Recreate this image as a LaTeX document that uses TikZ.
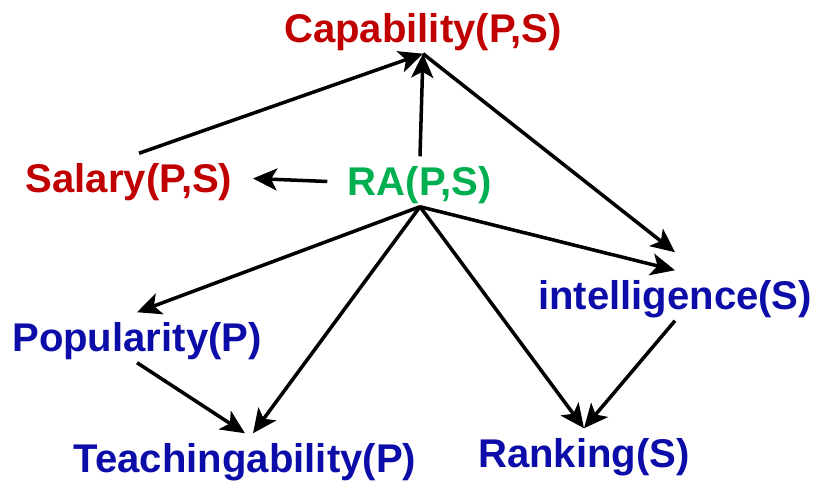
\documentclass[tikz,border=0pt]{standalone}
\usepackage{fontspec}
\setmainfont{Liberation Sans}
\usepackage{tikz}
\usetikzlibrary{arrows.meta}
\definecolor{bnred}{HTML}{C00000}
\definecolor{bngreen}{HTML}{00B050}
\definecolor{bnblue}{HTML}{0C0CA8}

\begin{document}
\begin{tikzpicture}[x=0.01cm,y=0.01cm,
  >={Stealth[length=0.24cm,width=0.22cm,inset=0.06cm]},
  vr/.style={anchor=base,font=\fontsize{11.4pt}{13pt}\selectfont\bfseries,
    text height=0.38cm,text depth=0.09cm,inner ysep=0.01cm,inner xsep=0.2cm},
  ed/.style={->,black,line width=1pt}]
\useasboundingbox (0,0) rectangle (815,485);
\node[vr,text=bnred] (cap) at (423,442) {Capability(P,S)};
\node[vr,text=bnred] (sal) at (129,292) {Salary(P,S)};
\node[vr,text=bngreen] (ra) at (420,289) {RA(P,S)};
\node[vr,text=bnblue] (int) at (675,175) {intelligence(S)};
\node[vr,text=bnblue] (pop) at (137,133) {Popularity(P)};
\node[vr,text=bnblue] (tch) at (245,12) {Teachingability(P)};
\node[vr,text=bnblue] (rnk) at (584,17) {Ranking(S)};

\draw[ed] ([xshift=0.1cm]sal.north) -- (cap.south);
\draw[ed] (ra.north) -- (cap.south);
\draw[ed] (ra.west) -- (sal.east);
\draw[ed] (cap.south) -- ([yshift=0.18cm]int.north);
\draw[ed] (ra.south) -- (int.north);
\draw[ed] (ra.south) -- (pop.north);
\draw[ed] (ra.south) -- ([xshift=0.08cm]tch.north);
\draw[ed] (ra.south) -- (rnk.north);
\draw[ed] (pop.south) -- (tch.north);
\draw[ed] (int.south) -- (rnk.north);
\end{tikzpicture}
\end{document}
